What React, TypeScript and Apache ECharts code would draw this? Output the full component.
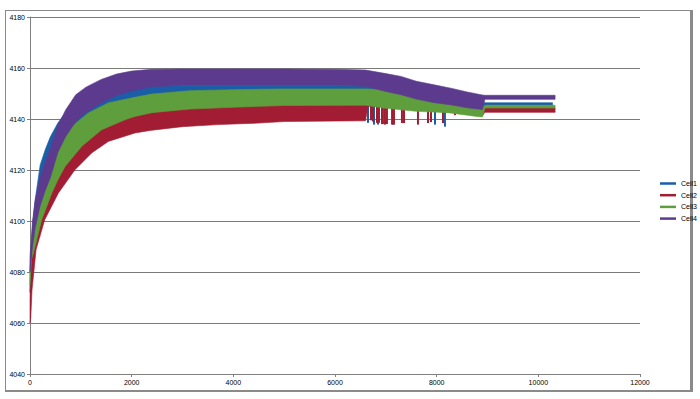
import React, { useEffect, useRef } from "react";
import * as echarts from "echarts";

// ---- Data ----
const seriesNames = ["Cell1", "Cell2", "Cell3", "Cell4"];
const seriesColors = ["#1b5ea8", "#a21d33", "#5f9e3c", "#5c3b8e"];

const xTicks = { min: 0, max: 12000, interval: 2000 };
const yTicks = { min: 4040, max: 4180, interval: 20 };

// Cell1 (blue) band envelope
const cell1X = [0, 50, 100, 200, 300, 400, 550, 700, 900, 1100, 1400, 1700, 2000, 2400, 3000, 4000, 5000, 6000, 6600, 7000, 7300, 7600, 7950, 8300, 8600, 8900, 8950, 10280];
const cell1Hi = [4082, 4098, 4108, 4122, 4128, 4133, 4138.5, 4142.5, 4146, 4148, 4150.3, 4151.6, 4152.3, 4153, 4153.2, 4153.2, 4153.2, 4153.2, 4153, 4151, 4149.6, 4148.5, 4148, 4147.5, 4147, 4146.6, 4146.4, 4146.4];
const cell1Lo = [4072, 4085, 4095, 4104, 4110, 4115, 4122, 4128, 4134, 4138, 4142, 4144.5, 4146, 4147, 4147, 4147, 4147, 4147, 4147, 4146, 4145.5, 4145, 4144.5, 4144, 4143.5, 4143, 4145.4, 4145.4];
// Cell1 downward spikes: x, low value
const cell1SpikeX = [6649, 6767, 6845, 6944, 7121, 7967, 8163];
const cell1SpikeLow = [4138.5, 4137.8, 4137.8, 4138, 4137.8, 4137.8, 4137];

// Cell2 (red) band envelope
const cell2X = [0, 15, 40, 120, 290, 560, 885, 1214, 1540, 2065, 2360, 3000, 3700, 4500, 5000, 6600, 6650, 6950, 7600, 8260, 8790, 8900, 8950, 10330];
const cell2Hi = [4070, 4082, 4088, 4093, 4106, 4118, 4128, 4134.5, 4139, 4143, 4144, 4145.5, 4146, 4146.8, 4147, 4147, 4147, 4146, 4145, 4144, 4143, 4143, 4144.3, 4144.3];
const cell2Lo = [4060, 4062, 4073, 4088.8, 4100.5, 4111, 4120.1, 4126.7, 4131.2, 4134.5, 4135.5, 4137, 4137.8, 4138.4, 4139, 4139.3, 4145, 4144.8, 4143.5, 4142.9, 4141.5, 4141.3, 4142.6, 4142.6];
const cell2SpikeX = [6708, 6747, 6826, 6865, 6924, 6983, 7022, 7140, 7160, 7317, 7357, 7632, 7829, 7888, 8124, 8360, 8458, 8576, 8655];
const cell2SpikeLow = [4139.5, 4139, 4138.5, 4138.5, 4138, 4137.8, 4138, 4137.8, 4137.8, 4138.4, 4138.4, 4137.8, 4138.4, 4138.8, 4138.4, 4141.5, 4142.3, 4142.3, 4142.5];

// Cell3 (green) band envelope
const cell3X = [0, 30, 60, 100, 230, 360, 430, 550, 690, 820, 1020, 1150, 1410, 1540, 1870, 2065, 2400, 3150, 4000, 5000, 6600, 6950, 7300, 7600, 7950, 8260, 8600, 8790, 8900, 8950, 10330];
const cell3Hi = [4080, 4088, 4100, 4107, 4113.6, 4120, 4123.2, 4128.8, 4133.1, 4137, 4140.3, 4142.4, 4145, 4146.3, 4147.7, 4148.5, 4149.8, 4151.1, 4151.5, 4151.8, 4151.8, 4151.6, 4150.3, 4148.6, 4147.3, 4146.5, 4145.3, 4144.9, 4144.6, 4145.4, 4145.4];
const cell3Lo = [4075, 4085, 4087, 4090, 4100.5, 4107.3, 4111, 4116.2, 4121.4, 4124.5, 4129.3, 4131.5, 4135.8, 4136.9, 4139.7, 4141, 4142.5, 4143.9, 4144.6, 4145.3, 4145.4, 4144.3, 4143.6, 4143, 4142.7, 4142.4, 4141.5, 4141, 4140.8, 4144.3, 4144.3];

// Cell4 (purple) band envelope
const cell4X = [0, 50, 100, 200, 300, 400, 550, 700, 900, 1100, 1400, 1700, 2000, 2400, 3000, 4000, 5000, 6000, 6600, 7000, 7300, 7600, 7950, 8300, 8600, 8900, 8950, 10330];
const cell4Hi = [4086, 4100, 4108, 4117, 4123, 4128.5, 4137.5, 4143.5, 4149.5, 4152.5, 4155.5, 4157.6, 4158.8, 4159.5, 4159.6, 4159.6, 4159.6, 4159.5, 4159.2, 4157.8, 4156.7, 4154.8, 4153.4, 4152, 4150.6, 4149.4, 4149.3, 4149.3];
const cell4Lo = [4080, 4090, 4097, 4106, 4112, 4117, 4127, 4133, 4139, 4142.5, 4146.3, 4149.2, 4151, 4152.6, 4153.2, 4153.2, 4153.2, 4153.2, 4152.8, 4150.8, 4149.5, 4147.8, 4146.4, 4145.5, 4144.4, 4143.7, 4147.7, 4147.7];

const spikeTop = 4146;

// ---- Series builders ----
function bandSeries(name: string, color: string, xs: number[], lo: number[], hi: number[]) {
  return {
    type: "custom",
    name,
    itemStyle: { color },
    silent: true,
    data: xs.map((x, i) => [x, lo[i], hi[i]]),
    encode: { x: 0, y: [1, 2] },
    renderItem: (params: any, api: any) => {
      if (params.dataIndex !== 0) return null;
      const pts: number[][] = [];
      for (let i = 0; i < xs.length; i++) pts.push(api.coord([xs[i], hi[i]]));
      for (let i = xs.length - 1; i >= 0; i--) pts.push(api.coord([xs[i], lo[i]]));
      return {
        type: "polygon",
        shape: { points: pts },
        style: { fill: color, stroke: color, lineWidth: 0.6 },
      };
    },
  };
}

function spikeSeries(color: string, xs: number[], lows: number[]) {
  return {
    type: "custom",
    silent: true,
    itemStyle: { color },
    data: xs.map((x, i) => [x, spikeTop, lows[i]]),
    encode: { x: 0, y: [1, 2] },
    renderItem: (params: any, api: any) => {
      const top = api.coord([api.value(0), api.value(1)]);
      const bot = api.coord([api.value(0), api.value(2)]);
      return {
        type: "rect",
        shape: { x: top[0] - 1, y: top[1], width: 2, height: bot[1] - top[1] },
        style: { fill: color },
      };
    },
  };
}

const font = "Liberation Sans, Arial, sans-serif";
const plain = (v: number) => String(v);

const option: any = {
  animation: false,
  textStyle: { fontFamily: font, color: "#000000" },
  grid: { left: 30, right: 60, top: 17, bottom: 25, containLabel: false },
  xAxis: {
    type: "value",
    min: xTicks.min,
    max: xTicks.max,
    interval: xTicks.interval,
    splitLine: { show: false },
    axisLine: { show: true, lineStyle: { color: "#808080", width: 1 } },
    axisTick: { show: true, length: 3, lineStyle: { color: "#808080" } },
    axisLabel: { fontSize: 7, color: "#000000", margin: 5, fontFamily: font, formatter: plain },
  },
  yAxis: {
    type: "value",
    min: yTicks.min,
    max: yTicks.max,
    interval: yTicks.interval,
    splitLine: { show: true, lineStyle: { color: "#7a7a7a", width: 1 } },
    axisLine: { show: true, lineStyle: { color: "#808080", width: 1 } },
    axisTick: { show: true, length: 3, lineStyle: { color: "#808080" } },
    axisLabel: { fontSize: 7, color: "#000000", margin: 5, fontFamily: font, formatter: plain },
  },
  legend: {
    orient: "vertical",
    left: 655,
    top: 175,
    itemWidth: 16,
    itemHeight: 2.5,
    itemGap: 4.7,
    textStyle: { fontSize: 7, color: "#000000", fontFamily: font },
    data: seriesNames.map((n) => ({ name: n, icon: "rect" })),
    selectedMode: false,
  },
  series: [
    bandSeries(seriesNames[0], seriesColors[0], cell1X, cell1Lo, cell1Hi),
    spikeSeries(seriesColors[0], cell1SpikeX, cell1SpikeLow),
    bandSeries(seriesNames[1], seriesColors[1], cell2X, cell2Lo, cell2Hi),
    spikeSeries(seriesColors[1], cell2SpikeX, cell2SpikeLow),
    bandSeries(seriesNames[2], seriesColors[2], cell3X, cell3Lo, cell3Hi),
    bandSeries(seriesNames[3], seriesColors[3], cell4X, cell4Lo, cell4Hi),
  ],
};

export default function App() {
  const ref = useRef<HTMLDivElement>(null);
  useEffect(() => {
    document.body.style.margin = "0";
    const chart = echarts.init(ref.current!, null, { renderer: "svg" });
    chart.setOption(option);
    return () => chart.dispose();
  }, []);
  return (
    <div style={{ position: "relative", width: 700, height: 399, background: "#fff" }}>
      <div
        style={{
          position: "absolute",
          left: 5,
          top: 10,
          width: 684,
          height: 379,
          borderLeft: "1px solid #8a8a8a",
          borderTop: "1px solid #8a8a8a",
          borderRight: "3px solid #8a8a8a",
          borderBottom: "2px solid #8a8a8a",
        }}
      />
      <div ref={ref} style={{ position: "absolute", left: 0, top: 0, width: 700, height: 399 }} />
    </div>
  );
}
